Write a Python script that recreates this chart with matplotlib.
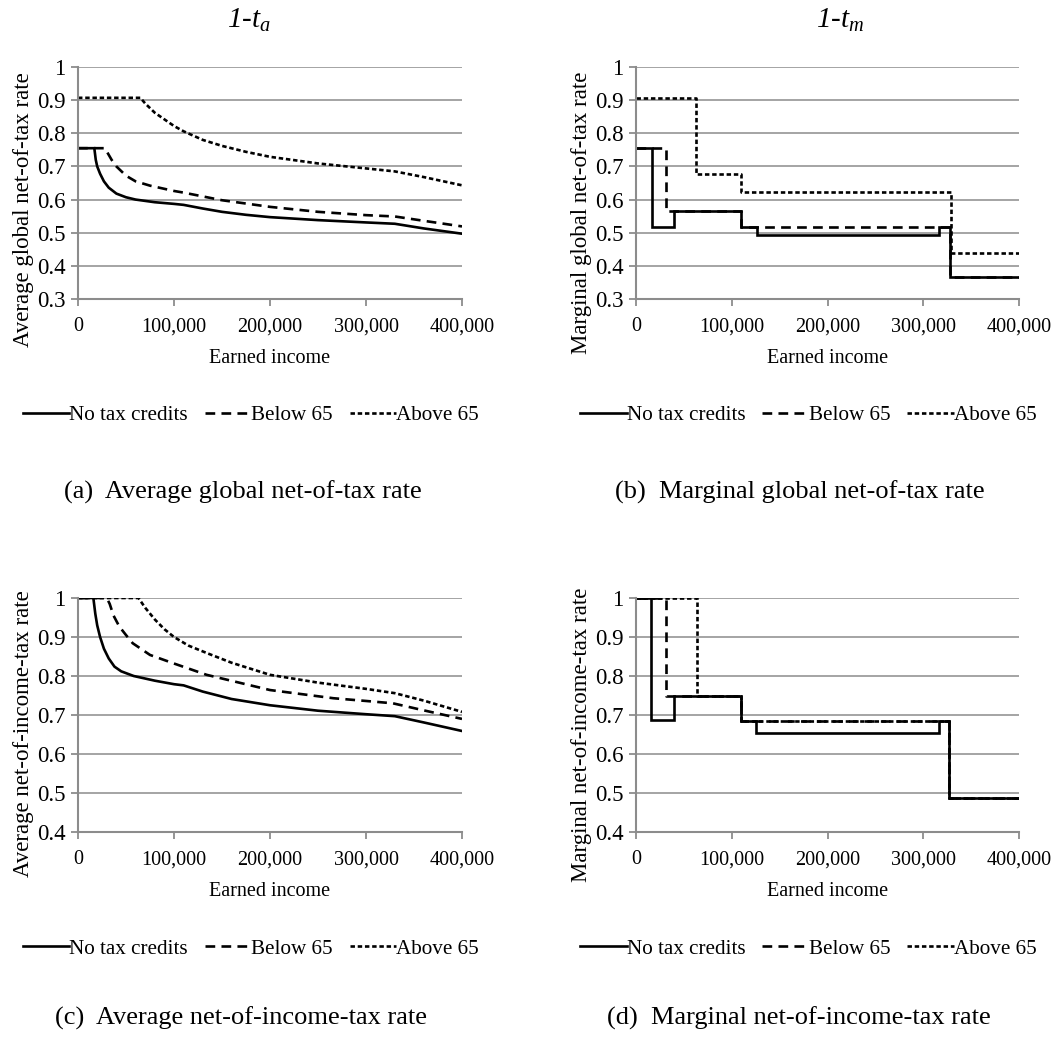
import numpy as np
import matplotlib
matplotlib.use('Agg')
import matplotlib.pyplot as plt
from matplotlib.ticker import FuncFormatter

plt.rcParams['font.family'] = ['Liberation Serif', 'DejaVu Serif']
plt.rcParams['mathtext.fontset'] = 'custom'
plt.rcParams['mathtext.it'] = 'Liberation Serif:italic'
plt.rcParams['mathtext.rm'] = 'Liberation Serif'
plt.rcParams['lines.scale_dashes'] = False

# ---- data ----
series_names = ['No tax credits', 'Below 65', 'Above 65']

# (a) average global net-of-tax rate
a_nc_x = [0, 17000, 18500, 20000, 23000, 27000, 32000, 40000, 50000, 60000, 80000, 100000,
          110000, 130000, 150000, 175000, 200000, 250000, 300000, 330000, 360000, 400000]
a_nc_y = [0.755, 0.755, 0.72, 0.70, 0.678, 0.655, 0.636, 0.618, 0.607, 0.600, 0.592, 0.587,
          0.584, 0.573, 0.563, 0.554, 0.547, 0.538, 0.531, 0.527, 0.513, 0.497]
a_b65_x = [0, 28000, 30000, 35000, 40000, 50000, 60000, 75000, 100000, 110000, 150000,
           200000, 250000, 300000, 330000, 360000, 400000]
a_b65_y = [0.755, 0.755, 0.745, 0.72, 0.70, 0.672, 0.655, 0.642, 0.626, 0.621, 0.598,
           0.578, 0.563, 0.553, 0.549, 0.536, 0.519]
a_a65_x = [0, 65000, 70000, 80000, 100000, 110000, 130000, 150000, 175000, 200000,
           250000, 300000, 330000, 360000, 400000]
a_a65_y = [0.907, 0.907, 0.89, 0.862, 0.822, 0.806, 0.780, 0.762, 0.744, 0.729,
           0.709, 0.694, 0.685, 0.668, 0.643]

# (b) marginal global net-of-tax rate (step schedules)
b_nc_x = [0, 16700, 40000, 109500, 126000, 316800, 328000, 400000]
b_nc_y = [0.755, 0.517, 0.565, 0.517, 0.493, 0.517, 0.365, 0.365]
b_b65_x = [0, 31500, 109500, 126000, 328000, 400000]
b_b65_y = [0.755, 0.565, 0.517, 0.517, 0.365, 0.365]
b_a65_x = [0, 63000, 109500, 329000, 400000]
b_a65_y = [0.907, 0.678, 0.622, 0.440, 0.440]

# (c) average net-of-income-tax rate
c_nc_x = [0, 16000, 18000, 20000, 23000, 27000, 32000, 38000, 45000, 58000, 80000, 100000,
          110000, 130000, 160000, 200000, 250000, 300000, 330000, 360000, 400000]
c_nc_y = [1.0, 1.0, 0.96, 0.93, 0.90, 0.87, 0.845, 0.824, 0.812, 0.800, 0.788, 0.779,
          0.776, 0.760, 0.741, 0.725, 0.711, 0.702, 0.697, 0.681, 0.659]
c_b65_x = [0, 30000, 33000, 37000, 43000, 50000, 57000, 75000, 100000, 134000,
           200000, 266000, 300000, 328000, 360000, 400000]
c_b65_y = [1.0, 1.0, 0.985, 0.955, 0.927, 0.905, 0.884, 0.854, 0.832, 0.803,
           0.764, 0.743, 0.736, 0.730, 0.712, 0.690]
c_a65_x = [0, 63000, 70000, 80000, 90000, 100000, 115000, 135000, 160000, 200000,
           250000, 300000, 330000, 360000, 400000]
c_a65_y = [1.0, 1.0, 0.975, 0.945, 0.920, 0.900, 0.878, 0.858, 0.834, 0.803,
           0.783, 0.767, 0.756, 0.737, 0.708]

# (d) marginal net-of-income-tax rate (step schedules)
d_nc_x = [0, 16000, 40000, 109500, 125500, 316800, 327000, 400000]
d_nc_y = [1.0, 0.686, 0.748, 0.685, 0.654, 0.685, 0.486, 0.486]
d_b65_x = [0, 31600, 109500, 327000, 400000]
d_b65_y = [1.0, 0.748, 0.685, 0.486, 0.486]
d_a65_x = [0, 63600, 109500, 327000, 400000]
d_a65_y = [1.0, 0.748, 0.685, 0.486, 0.486]

x_ticks = [0, 100000, 200000, 300000, 400000]
top_yticks = [0.3, 0.4, 0.5, 0.6, 0.7, 0.8, 0.9, 1.0]
bottom_yticks = [0.4, 0.5, 0.6, 0.7, 0.8, 0.9, 1.0]

ylabels = ['Average global net-of-tax rate', 'Marginal global net-of-tax rate',
           'Average net-of-income-tax rate', 'Marginal net-of-income-tax rate']
captions = ['(a)  Average global net-of-tax rate', '(b)  Marginal global net-of-tax rate',
            '(c)  Average net-of-income-tax rate', '(d)  Marginal net-of-income-tax rate']

# ---- layout ----
W, H = 1061, 1044
fig = plt.figure(figsize=(W / 100, H / 100), dpi=100)


def px_axes(left, top, right, bottom):
    return [left / W, 1 - bottom / H, (right - left) / W, (bottom - top) / H]


gray = '#8c8c8c'
styles = [dict(linestyle='-', lw=1.9),
          dict(linestyle=(0, (7, 4.5)), lw=1.9),
          dict(linestyle=(0, (3.2, 2.0)), lw=1.9)]

panels = [
    (px_axes(78, 67, 462, 299), [(a_nc_x, a_nc_y), (a_b65_x, a_b65_y), (a_a65_x, a_a65_y)], False, top_yticks, 0.3),
    (px_axes(636, 67, 1019, 299), [(b_nc_x, b_nc_y), (b_b65_x, b_b65_y), (b_a65_x, b_a65_y)], True, top_yticks, 0.3),
    (px_axes(78, 598, 462, 832), [(c_nc_x, c_nc_y), (c_b65_x, c_b65_y), (c_a65_x, c_a65_y)], False, bottom_yticks, 0.4),
    (px_axes(636, 598, 1019, 832), [(d_nc_x, d_nc_y), (d_b65_x, d_b65_y), (d_a65_x, d_a65_y)], True, bottom_yticks, 0.4),
]
ylabel_y = [0.385, 0.37, 0.42, 0.415]
ylabel_x = [-0.115, -0.115, -0.115, -0.115]

for i, (rect, data, steps, yticks, ymin) in enumerate(panels):
    ax = fig.add_axes(rect)
    # draw in reverse so the solid line sits on top
    for k in [2, 1, 0]:
        xs, ys = data[k]
        ax.plot(xs, ys, color='black', label=series_names[k],
                drawstyle='steps-post' if steps else 'default',
                solid_joinstyle='miter', **styles[k])
    ax.set_xlim(0, 400000)
    ax.set_ylim(ymin, 1.0)
    ax.set_xticks(x_ticks)
    ax.set_yticks(yticks)
    ax.xaxis.set_major_formatter(FuncFormatter(lambda v, p: f'{v:,.0f}'))
    ax.yaxis.set_major_formatter(FuncFormatter(lambda v, p: f'{v:g}'))
    ax.grid(axis='y', color=gray, lw=1.1, zorder=0)
    ax.set_axisbelow(True)
    for s in ['top', 'right']:
        ax.spines[s].set_visible(False)
    for s in ['left', 'bottom']:
        ax.spines[s].set_color(gray)
        ax.spines[s].set_linewidth(1.5)
    ax.tick_params(axis='both', colors=gray, labelcolor='black',
                   direction='out', length=5, width=1.3)
    ax.tick_params(axis='x', labelsize=14.5, pad=8)
    ax.tick_params(axis='y', labelsize=16.5, pad=4)
    ax.set_xlabel('Earned income', fontsize=14.5, labelpad=9)
    ax.set_ylabel(ylabels[i], fontsize=16.5)
    ax.yaxis.set_label_coords(ylabel_x[i], ylabel_y[i])
    handles, labels = ax.get_legend_handles_labels()
    ax.legend(handles[::-1], labels[::-1], loc='center', bbox_to_anchor=(0.45, -0.5),
              ncol=3, frameon=False, fontsize=15.2, handlelength=2.2,
              handletextpad=0.0, columnspacing=0.8)

fig.text(249 / W, 1 - 20 / H, '1-t$_a$', fontsize=21, style='italic', ha='center', va='center')
fig.text(840 / W, 1 - 20 / H, '1-t$_m$', fontsize=21, style='italic', ha='center', va='center')

cap_pos = [(243, 492), (800, 492), (241, 1018), (799, 1018)]
for (cx, cy), txt in zip(cap_pos, captions):
    fig.text(cx / W, 1 - cy / H, txt, fontsize=19, ha='center', va='center')

fig.savefig('out.png', dpi=100)
